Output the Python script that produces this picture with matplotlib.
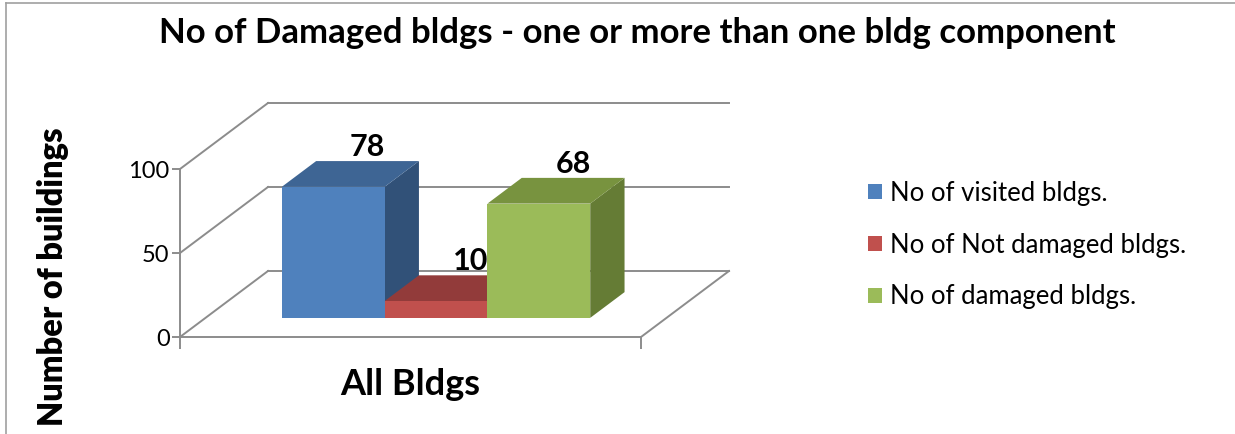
import matplotlib
matplotlib.use('Agg')
import matplotlib.pyplot as plt
from matplotlib.patches import Polygon
from matplotlib.lines import Line2D

# 01 Data
categories = ['All Bldgs']
series_names = ['No of visited bldgs.', 'No of Not damaged bldgs.', 'No of damaged bldgs.']
series_values = [78, 10, 68]
y_ticks = [0, 50, 100]

front_colors = ['#4F81BD', '#C0504D', '#9BBB59']
top_colors = ['#3E6594', '#923B3A', '#78933F']
side_colors = ['#315178', '#7A3130', '#657C35']

plt.rcParams['font.family'] = ['Lato', 'DejaVu Sans']

W, H = 1235, 434
fig = plt.figure(figsize=(W / 100, H / 100), dpi=100)

# 02 The axes is the front plane of the 3D box (pixel frame of the picture)
left_px, right_px, zero_px, top_px = 180, 641, 337, 169
ax = fig.add_axes([left_px / W, 1 - zero_px / H,
                   (right_px - left_px) / W, (zero_px - top_px) / H])
ax.set_xlim(0, 1)
ax.set_ylim(0, 100)

# depth of the floor in data units (88 px to the right, 66 px up)
DX = 88 / (right_px - left_px)
DY = 66 / ((zero_px - top_px) / 100)

grid = '#8C8C8C'
lw = 1.4

# 03 Walls: back gridlines, left wall diagonals, right floor edge
for v in y_ticks:
    ax.plot([DX, 1 + DX], [v + DY, v + DY], color=grid, lw=lw, clip_on=False, zorder=1)
    ax.plot([0, DX], [v, v + DY], color=grid, lw=lw, clip_on=False, zorder=1)
ax.plot([1, 1 + DX], [0, DY], color=grid, lw=lw, clip_on=False, zorder=1)

# 04 Bars: front face with ax.bar, top and side faces as polygons
width = 0.223
d0, d1 = 0.29, 0.68          # bar front / back depth (fraction of the floor)
dd = d1 - d0
n = len(series_values)
for i, (name, val) in enumerate(zip(series_names, series_values)):
    xl = 0.5 + (i - n / 2) * width + d0 * DX
    xr = xl + width
    b = d0 * DY
    t = b + val
    z = 3 + 3 * i
    ax.bar(xl, val, width, bottom=b, align='edge', color=front_colors[i],
           label=name, zorder=z + 2, clip_on=False)
    top = Polygon([(xl, t), (xr, t), (xr + dd * DX, t + dd * DY), (xl + dd * DX, t + dd * DY)],
                  closed=True, facecolor=top_colors[i], edgecolor='none', zorder=z + 1, clip_on=False)
    side = Polygon([(xr, b), (xr, t), (xr + dd * DX, t + dd * DY), (xr + dd * DX, b + dd * DY)],
                   closed=True, facecolor=side_colors[i], edgecolor='none', zorder=z, clip_on=False)
    ax.add_patch(top)
    ax.add_patch(side)
    # value label above the back edge of the top face
    ax.text(xl + width / 2 + dd * DX, t + dd * DY, str(val), ha='center', va='bottom',
            fontsize=22, fontweight='bold', zorder=20, clip_on=False)

# 05 Axes styling
for s in ['top', 'right']:
    ax.spines[s].set_visible(False)
for s in ['left', 'bottom']:
    ax.spines[s].set_color(grid)
    ax.spines[s].set_linewidth(lw)
ax.set_yticks(y_ticks)
ax.tick_params(axis='y', length=6, width=lw, color=grid, labelsize=17, pad=1.5)
ax.set_xticks([0, 1], minor=True)
ax.tick_params(axis='x', which='minor', length=8.5, width=lw, color=grid)
ax.set_xticks([0.5], categories)
ax.tick_params(axis='x', which='major', length=0, pad=22, labelsize=26)
for lab in ax.get_xticklabels():
    lab.set_fontweight('bold')
ax.patch.set_visible(False)

fig.text(53 / W, 1 - 277 / H, 'Number of buildings', rotation=90, ha='center', va='center',
         fontsize=23.5, fontweight='heavy')
fig.text(637 / W, 1 - 33 / H, 'No of Damaged bldgs - one or more than one bldg component',
         ha='center', va='center', fontsize=25, fontweight='bold')

ax.legend(loc='center left', bbox_to_anchor=(868 / W, 1 - 245 / H), bbox_transform=fig.transFigure,
          frameon=False, fontsize=18.5, handlelength=0.55, handleheight=0.55, handletextpad=0.3,
          labelspacing=1.05, borderpad=0, borderaxespad=0)

# 06 Chart area border (top and left edges visible)
fig.add_artist(Line2D([6 / W, 6 / W], [0, 1 - 3 / H], transform=fig.transFigure, color='#A0A0A0', lw=1.2))
fig.add_artist(Line2D([6 / W, 1], [1 - 3 / H, 1 - 3 / H], transform=fig.transFigure, color='#A0A0A0', lw=1.2))

fig.savefig('out.png', dpi=100)
